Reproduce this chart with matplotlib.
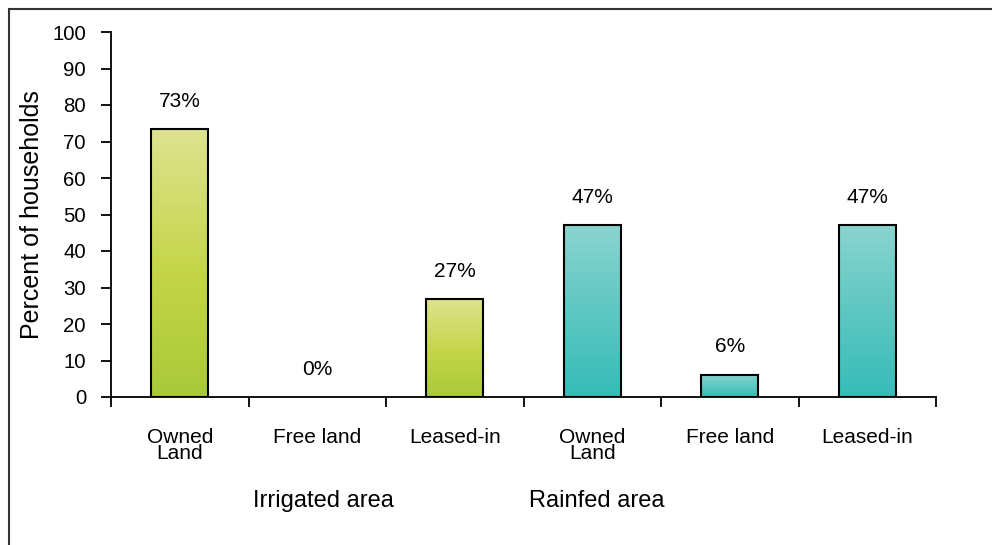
import matplotlib
matplotlib.use("Agg")
import matplotlib.pyplot as plt
import numpy as np
from matplotlib.colors import LinearSegmentedColormap
from matplotlib.patches import Rectangle
from matplotlib.lines import Line2D

categories = ["Owned\nLand", "Free land", "Leased-in", "Owned\nLand", "Free land", "Leased-in"]
values = [73.3, 0, 26.8, 47.1, 6.1, 47.1]
labels = ["73%", "0%", "27%", "47%", "6%", "47%"]
groups = ["Irrigated area", "Rainfed area"]
group_of_bar = [0, 0, 0, 1, 1, 1]

plt.rcParams['font.family'] = ['Liberation Sans', 'DejaVu Sans']

fig = plt.figure(figsize=(9.92, 5.45), dpi=100)
ax = fig.add_axes([111/992, 1-397/545, (936-111)/992, (397-32)/545])

cmaps = [
    LinearSegmentedColormap.from_list("g", [(0, "#a9c93a"), (0.45, "#c3d546"), (1, "#dde38f")]),
    LinearSegmentedColormap.from_list("t", [(0, "#36bcb8"), (0.5, "#5ec7c2"), (1, "#8ad4cf")]),
]

x = np.arange(len(values))
width = 0.415
grad = np.linspace(0, 1, 256).reshape(-1, 1)
for i, v in enumerate(values):
    if v > 0:
        ax.imshow(grad, extent=[x[i]-width/2, x[i]+width/2, 0, v], origin='lower',
                  aspect='auto', cmap=cmaps[group_of_bar[i]], zorder=2)
        ax.add_patch(Rectangle((x[i]-width/2, 0), width, v, fill=False,
                               edgecolor='black', linewidth=1.5, zorder=3))
    ax.annotate(labels[i], (x[i], v), xytext=(0, 20), textcoords='offset points',
                ha='center', va='center', fontsize=15)

ax.set_xlim(-0.5, len(values)-0.5)
ax.set_ylim(0, 100)
ax.set_yticks(np.arange(0, 101, 10))
ax.set_xticks(np.arange(-0.5, len(values), 1.0))
ax.set_xticklabels([])
ax.set_xticks(x, minor=True)
ax.set_xticklabels(categories, minor=True, fontsize=15, linespacing=0.82)
ax.tick_params(axis='x', which='major', direction='out', length=7, width=1.3)
ax.tick_params(axis='x', which='minor', length=0, pad=22)
ax.tick_params(axis='y', direction='out', length=7, width=1.3, labelsize=14.7, pad=11)
for s in ['top', 'right']:
    ax.spines[s].set_visible(False)
for s in ['left', 'bottom']:
    ax.spines[s].set_linewidth(1.3)
ax.set_ylabel("Percent of households", fontsize=18)
ax.yaxis.set_label_coords(-(111-44)/825, 0.5)

fig.text(323/992, 1-501/545, groups[0], ha='center', va='center', fontsize=17)
fig.text(597/992, 1-501/545, groups[1], ha='center', va='center', fontsize=17)

# frame around figure (top and left edges visible)
fig.add_artist(Line2D([8.5/992, 1.0], [1-9/545, 1-9/545], transform=fig.transFigure, color='#333333', linewidth=1.5))
fig.add_artist(Line2D([8.5/992, 8.5/992], [0, 1-9/545], transform=fig.transFigure, color='#333333', linewidth=1.5))

fig.savefig("out.png", dpi=100)
